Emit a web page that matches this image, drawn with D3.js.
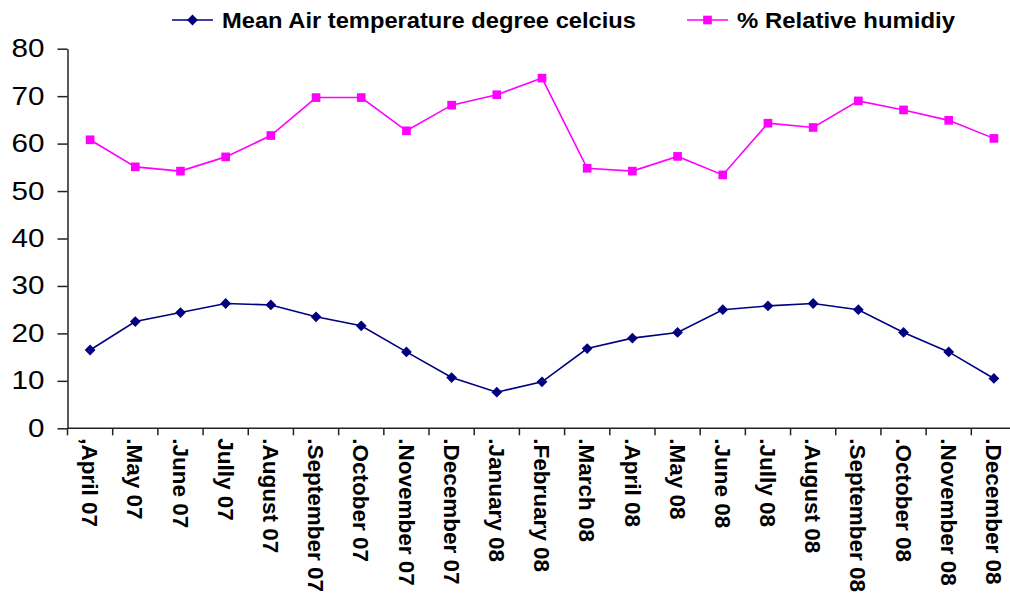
<!DOCTYPE html>
<html>
<head>
<meta charset="utf-8">
<script src="https://cdn.jsdelivr.net/npm/d3@7/dist/d3.min.js"></script>
<style>
  html, body { margin: 0; padding: 0; background: #fff; }
  svg { display: block; font-family: "Liberation Sans", Arial, sans-serif; }
</style>
</head>
<body>
<svg id="chart" width="1010" height="597"></svg>
<script>
const categories = [",April 07", ".May 07", ".June 07", "Jully 07", ".August 07", ".September 07",
  ".October 07", ".November 07", ".December 07", ".January 08", ".February 08", ".March 08",
  ".April 08", ".May 08", ".June 08", ".Jully 08", ".August 08", ".September 08",
  ".October 08", ".November 08", ".December 08"];
const temperature = [16.5, 22.5, 24.4, 26.3, 26.0, 23.5, 21.6, 16.1, 10.7, 7.6, 9.8,
  16.8, 19.0, 20.2, 25.0, 25.8, 26.3, 25.0, 20.2, 16.1, 10.5];
const humidity = [60.8, 55.1, 54.2, 57.2, 61.7, 69.7, 69.7, 62.7, 68.1, 70.3, 73.8,
  54.8, 54.2, 57.3, 53.4, 64.3, 63.4, 69.0, 67.1, 64.9, 61.1];
const yTicks = [0, 10, 20, 30, 40, 50, 60, 70, 80];
const seriesNames = ["Mean Air temperature degree celcius", "% Relative humidiy"];

const svg = d3.select("#chart");
const mLeft = 67.5, mRight = 1016.5, mTop = 48.7, mBottom = 428.3;

const x = d3.scaleBand().domain(categories).range([mLeft, mRight]).paddingInner(0).paddingOuter(0);
const y = d3.scaleLinear().domain([0, 80]).range([mBottom, mTop]);

// Y axis
const yAxis = d3.axisLeft(y).tickValues(yTicks).tickSize(10).tickSizeOuter(0).tickPadding(13);
const gy = svg.append("g").attr("transform", `translate(${mLeft},0)`).call(yAxis);
gy.select(".domain").attr("stroke", "#222").attr("stroke-width", 1.5);
gy.selectAll(".tick line").attr("stroke", "#222").attr("stroke-width", 1.5);
gy.selectAll(".tick text").attr("font-size", 25).attr("fill", "#000")
  .attr("font-family", "'Liberation Sans', Arial, sans-serif")
  .attr("textLength", d => String(d).length * 16.5)
  .attr("lengthAdjust", "spacingAndGlyphs");

// X axis line and ticks (ticks between categories)
const gx = svg.append("g");
gx.append("line").attr("x1", mLeft).attr("x2", mRight).attr("y1", mBottom).attr("y2", mBottom)
  .attr("stroke", "#222").attr("stroke-width", 1.5);
const boundaries = categories.map(c => x(c)).concat([x(categories[categories.length - 1]) + x.bandwidth()]);
gx.selectAll("line.tk").data(boundaries).join("line").attr("class", "tk")
  .attr("x1", d => d).attr("x2", d => d).attr("y1", mBottom).attr("y2", mBottom + 7)
  .attr("stroke", "#222").attr("stroke-width", 1.5);
gx.selectAll("text.lbl").data(categories).join("text").attr("class", "lbl")
  .attr("transform", d => `translate(${x(d) + x.bandwidth() / 2},${mBottom + 10}) rotate(90)`)
  .attr("text-anchor", "start").attr("dy", "0.35em")
  .attr("font-size", 22.5).attr("font-weight", "bold").attr("fill", "#000")
  .text(d => d);

const cx = d => x(d) + x.bandwidth() / 2;
const line = d3.line().x(d => cx(d.c)).y(d => y(d.v));

const tData = categories.map((c, i) => ({ c, v: temperature[i] }));
const hData = categories.map((c, i) => ({ c, v: humidity[i] }));

const tColor = "#000080", hColor = "#FF00FF";

svg.append("path").datum(hData).attr("d", line).attr("fill", "none")
  .attr("stroke", hColor).attr("stroke-width", 1.6);
svg.append("path").datum(tData).attr("d", line).attr("fill", "none")
  .attr("stroke", tColor).attr("stroke-width", 1.6);

const diamond = d3.symbol().type(d3.symbolSquare).size(58);
const square = d3.symbol().type(d3.symbolSquare).size(75);

svg.selectAll("path.tm").data(tData).join("path").attr("class", "tm")
  .attr("d", diamond()).attr("transform", d => `translate(${cx(d.c)},${y(d.v)}) rotate(45)`)
  .attr("fill", tColor);
svg.selectAll("path.hm").data(hData).join("path").attr("class", "hm")
  .attr("d", square()).attr("transform", d => `translate(${cx(d.c)},${y(d.v)})`)
  .attr("fill", hColor);

// Legend
const legend = svg.append("g");
const legItems = [
  { name: seriesNames[0], color: tColor, sym: "d", x1: 172, w: 414 },
  { name: seriesNames[1], color: hColor, sym: "s", x1: 687, w: 218 }
];
legItems.forEach(it => {
  const g = legend.append("g");
  g.append("line").attr("x1", it.x1).attr("x2", it.x1 + 41).attr("y1", 20).attr("y2", 20)
    .attr("stroke", it.color).attr("stroke-width", 1.6);
  g.append("path").attr("d", it.sym === "d" ? diamond() : square())
    .attr("transform", `translate(${it.x1 + 20.5},20)` + (it.sym === "d" ? " rotate(45)" : ""))
    .attr("fill", it.color);
  g.append("text").attr("x", it.x1 + 50).attr("y", 20).attr("dy", "0.35em")
    .attr("font-size", 22).attr("font-weight", "bold").attr("fill", "#000")
    .attr("textLength", it.w).attr("lengthAdjust", "spacingAndGlyphs").text(it.name);
});
</script>
</body>
</html>
